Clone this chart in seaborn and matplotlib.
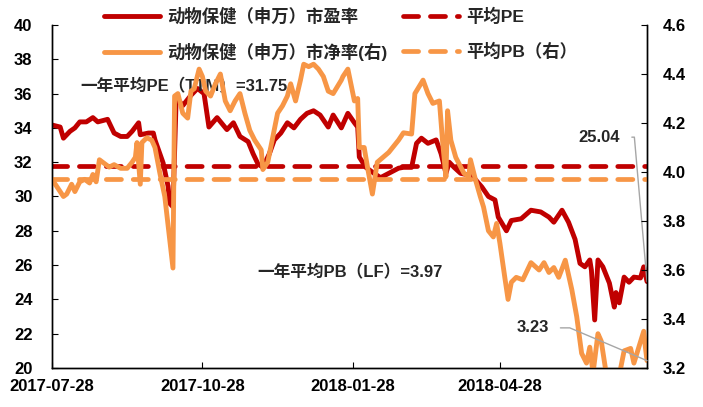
import numpy as np
import pandas as pd
import matplotlib
matplotlib.use("Agg")
import matplotlib.pyplot as plt
import matplotlib.dates as mdates
import seaborn as sns

# ── data ─────────────────────────────────────────────────────────────────────
pe_dates = [
    "2017-07-28", "2017-08-02", "2017-08-04", "2017-08-08", "2017-08-11", "2017-08-14",
    "2017-08-18", "2017-08-22", "2017-08-25", "2017-08-31", "2017-09-04", "2017-09-08",
    "2017-09-12", "2017-09-15", "2017-09-19", "2017-09-20", "2017-09-25", "2017-09-28",
    "2017-09-29", "2017-10-04", "2017-10-07", "2017-10-08", "2017-10-10", "2017-10-12",
    "2017-10-16", "2017-10-21", "2017-10-25", "2017-10-29", "2017-11-01", "2017-11-06",
    "2017-11-12", "2017-11-16", "2017-11-20", "2017-11-25", "2017-11-28", "2017-12-01",
    "2017-12-04", "2017-12-08", "2017-12-11", "2017-12-15", "2017-12-19", "2017-12-23",
    "2017-12-27", "2017-12-31", "2018-01-04", "2018-01-08", "2018-01-13", "2018-01-16",
    "2018-01-21", "2018-01-25", "2018-01-29", "2018-01-31", "2018-02-01", "2018-02-05",
    "2018-02-10", "2018-02-14", "2018-02-19", "2018-02-25", "2018-02-28", "2018-03-05",
    "2018-03-08", "2018-03-11", "2018-03-15", "2018-03-20", "2018-03-23", "2018-03-26",
    "2018-03-28", "2018-03-31", "2018-04-04", "2018-04-09", "2018-04-12", "2018-04-17",
    "2018-04-21", "2018-04-25", "2018-04-27", "2018-05-02", "2018-05-05", "2018-05-11",
    "2018-05-17", "2018-05-23", "2018-05-28", "2018-05-31", "2018-06-05", "2018-06-09",
    "2018-06-13", "2018-06-16", "2018-06-19", "2018-06-22", "2018-06-23", "2018-06-25",
    "2018-06-27", "2018-06-30", "2018-07-04", "2018-07-07", "2018-07-08", "2018-07-10",
    "2018-07-13", "2018-07-16", "2018-07-19", "2018-07-23", "2018-07-25", "2018-07-27",
]
pe_values = [
    34.17, 34.05, 33.4, 33.8, 34.0, 34.35, 34.35, 34.6, 34.35, 34.5, 33.7, 33.5,
    33.5, 33.8, 34.3, 33.6, 33.7, 33.7, 33.3, 31.95, 30.6, 29.6, 29.4, 35.8,
    35.3, 35.9, 36.3, 36.0, 34.05, 34.6, 33.9, 34.3, 33.5, 33.2, 32.5, 31.9,
    31.7, 32.5, 33.3, 33.7, 34.3, 34.0, 34.5, 34.85, 35.0, 34.75, 34.05, 34.75,
    34.0, 34.85, 34.3, 34.05, 32.3, 31.7, 31.35, 31.1, 31.35, 31.65, 31.7, 31.7,
    33.1, 33.4, 33.1, 33.3, 32.5, 31.35, 32.0, 31.7, 31.35, 31.25, 31.1, 30.55,
    30.0, 29.8, 28.8, 28.0, 28.6, 28.7, 29.2, 29.1, 28.8, 28.5, 29.2, 28.5,
    27.5, 26.1, 25.9, 26.3, 25.7, 22.8, 26.3, 25.9, 24.95, 23.55, 24.4, 23.8,
    25.3, 25.0, 25.3, 25.25, 25.9, 25.04,
]

pb_dates = [
    "2017-07-28", "2017-07-30", "2017-08-04", "2017-08-06", "2017-08-09", "2017-08-11",
    "2017-08-14", "2017-08-17", "2017-08-20", "2017-08-22", "2017-08-24", "2017-08-26",
    "2017-08-28", "2017-09-01", "2017-09-04", "2017-09-08", "2017-09-12", "2017-09-15",
    "2017-09-17", "2017-09-18", "2017-09-20", "2017-09-21", "2017-09-24", "2017-09-27",
    "2017-09-29", "2017-10-02", "2017-10-05", "2017-10-10", "2017-10-11", "2017-10-13",
    "2017-10-16", "2017-10-19", "2017-10-21", "2017-10-23", "2017-10-26", "2017-10-28",
    "2017-10-30", "2017-11-02", "2017-11-05", "2017-11-08", "2017-11-11", "2017-11-14",
    "2017-11-17", "2017-11-20", "2017-11-23", "2017-11-26", "2017-11-29", "2017-12-03",
    "2017-12-04", "2017-12-07", "2017-12-10", "2017-12-13", "2017-12-16", "2017-12-19",
    "2017-12-21", "2017-12-24", "2017-12-27", "2017-12-29", "2018-01-01", "2018-01-04",
    "2018-01-07", "2018-01-10", "2018-01-13", "2018-01-16", "2018-01-21", "2018-01-22",
    "2018-01-25", "2018-01-29", "2018-01-31", "2018-02-01", "2018-02-04", "2018-02-06",
    "2018-02-09", "2018-02-12", "2018-02-19", "2018-02-25", "2018-02-28", "2018-03-05",
    "2018-03-07", "2018-03-12", "2018-03-15", "2018-03-18", "2018-03-22", "2018-03-24",
    "2018-03-26", "2018-03-27", "2018-03-29", "2018-04-01", "2018-04-06", "2018-04-09",
    "2018-04-10", "2018-04-13", "2018-04-16", "2018-04-18", "2018-04-21", "2018-04-24",
    "2018-04-26", "2018-04-28", "2018-05-01", "2018-05-03", "2018-05-05", "2018-05-08",
    "2018-05-12", "2018-05-17", "2018-05-22", "2018-05-25", "2018-05-28", "2018-05-31",
    "2018-06-03", "2018-06-07", "2018-06-11", "2018-06-14", "2018-06-17", "2018-06-20",
    "2018-06-22", "2018-06-24", "2018-06-27", "2018-06-29", "2018-07-02", "2018-07-05",
    "2018-07-10", "2018-07-13", "2018-07-17", "2018-07-19", "2018-07-22", "2018-07-25",
    "2018-07-26", "2018-07-27",
]
pb_values = [
    3.97, 3.95, 3.90, 3.91, 3.95, 3.92, 3.96, 3.97, 3.955, 3.99, 3.96, 4.05,
    4.04, 4.02, 4.03, 4.015, 4.015, 4.04, 4.06, 4.12, 3.95, 4.12, 4.14, 4.13,
    4.10, 3.995, 3.90, 3.608, 4.31, 4.32, 4.24, 4.22, 4.33, 4.34, 4.42, 4.39,
    4.33, 4.31, 4.36, 4.40, 4.29, 4.25, 4.29, 4.32, 4.24, 4.17, 4.13, 4.09,
    4.01, 4.04, 4.14, 4.24, 4.27, 4.31, 4.36, 4.29, 4.375, 4.44, 4.43, 4.44,
    4.42, 4.39, 4.33, 4.32, 4.375, 4.39, 4.42, 4.29, 4.30, 4.10, 4.10, 4.02,
    3.91, 4.04, 4.08, 4.13, 4.16, 4.155, 4.32, 4.375, 4.32, 4.28, 4.29, 4.12,
    3.98, 4.25, 4.13, 4.06, 3.995, 3.98, 4.05, 3.97, 3.90, 3.857, 3.76, 3.735,
    3.79, 3.71, 3.57, 3.48, 3.55, 3.57, 3.56, 3.63, 3.60, 3.63, 3.59, 3.61,
    3.57, 3.64, 3.52, 3.41, 3.26, 3.22, 3.285, 3.18, 3.34, 3.31, 3.18, 3.15,
    3.17, 3.27, 3.28, 3.22, 3.285, 3.35, 3.285, 3.23,
]

avg_pe = 31.75
avg_pb = 3.97
tick_dates = ["2017-07-28", "2017-10-28", "2018-01-28", "2018-04-28"]
labels = ["动物保健（申万）市盈率", "动物保健（申万）市净率(右)", "平均PE", "平均PB（右）"]

RED = "#C00000"
ORANGE = "#F79646"

sns.set_style("ticks")
plt.rcParams["font.family"] = ["Liberation Sans", "Noto Sans CJK SC"]
plt.rcParams["font.weight"] = "bold"
plt.rcParams["axes.unicode_minus"] = False

pe_df = pd.DataFrame({"date": pd.to_datetime(pe_dates), "pe": pe_values})
pb_df = pd.DataFrame({"date": pd.to_datetime(pb_dates), "pb": pb_values})

fig = plt.figure(figsize=(7.03, 4.07), dpi=100)
ax = fig.add_axes([52 / 703, 39 / 407, 595 / 703, 343 / 407])
ax2 = ax.twinx()

sns.lineplot(data=pe_df, x="date", y="pe", ax=ax, color=RED, lw=3.5)
l_pe = ax.lines[-1]
l_avgpe = ax.axhline(avg_pe, color=RED, lw=3.4, dashes=(3.2, 2.5), dash_capstyle="round")

sns.lineplot(data=pb_df, x="date", y="pb", ax=ax2, color=ORANGE, lw=3.5)
l_pb = ax2.lines[-1]
l_avgpb = ax2.axhline(avg_pb, color=ORANGE, lw=3.4, dashes=(3.2, 2.5), dash_capstyle="round")

# axes
ax.set_xlim(pd.Timestamp("2017-07-28"), pd.Timestamp("2018-07-27"))
ax.set_ylim(20, 40)
ax.set_yticks(np.arange(20, 41, 2))
ax2.set_ylim(3.2, 4.6)
ax2.set_yticks(np.arange(3.2, 4.61, 0.2))
ax2.yaxis.set_major_formatter(matplotlib.ticker.FormatStrFormatter("%.1f"))
ax.set_xticks(pd.to_datetime(tick_dates))
ax.xaxis.set_major_formatter(mdates.DateFormatter("%Y-%m-%d"))
for a in (ax, ax2):
    a.set_xlabel("")
    a.set_ylabel("")
    a.spines["top"].set_visible(False)
    for s in a.spines.values():
        s.set_color("black")
        s.set_linewidth(1)
ax.tick_params(axis="y", direction="in", length=4, labelsize=12, pad=14, colors="black")
ax.tick_params(axis="x", direction="in", length=4, labelsize=12, pad=8, colors="black")
ax2.tick_params(axis="y", direction="in", length=4, labelsize=12, pad=11, colors="black")

# text annotations
ax.text(0.047, 0.822, "一年平均PE（TTM）=31.75", transform=ax.transAxes,
        va="center", ha="left", fontsize=12)
ax.text(0.346, 0.28, "一年平均PB（LF）=3.97", transform=ax.transAxes,
        va="center", ha="left", fontsize=12)
ax.annotate("25.04", xy=(pd.Timestamp(pe_dates[-1]), pe_values[-1]),
            xytext=(0.955, 0.673), textcoords="axes fraction",
            ha="right", va="center", fontsize=12,
            arrowprops=dict(arrowstyle="-", color="#A6A6A6", lw=1, relpos=(1, 0.5),
                            shrinkA=6, shrinkB=0,
                            connectionstyle="angle,angleA=0,angleB=95,rad=0"))
ax2.annotate("3.23", xy=(pd.Timestamp(pb_dates[-1]), pb_values[-1]),
             xytext=(0.835, 0.117), textcoords="axes fraction",
             ha="right", va="center", fontsize=12,
             arrowprops=dict(arrowstyle="-", color="#A6A6A6", lw=1, relpos=(1, 0.5),
                             shrinkA=6, shrinkB=0,
                             connectionstyle="angle,angleA=0,angleB=157,rad=0"))

fig.legend(handles=[l_pe, l_pb, l_avgpe, l_avgpb], labels=labels, ncol=2,
           loc="upper left", bbox_to_anchor=(104 / 703, 1 - 8 / 407),
           frameon=False, handlelength=3.2, handletextpad=0.45, columnspacing=0.9,
           labelspacing=1.0, borderpad=0, borderaxespad=0,
           prop={"size": 12.5, "weight": "bold"})

fig.savefig("out.png", dpi=100)
